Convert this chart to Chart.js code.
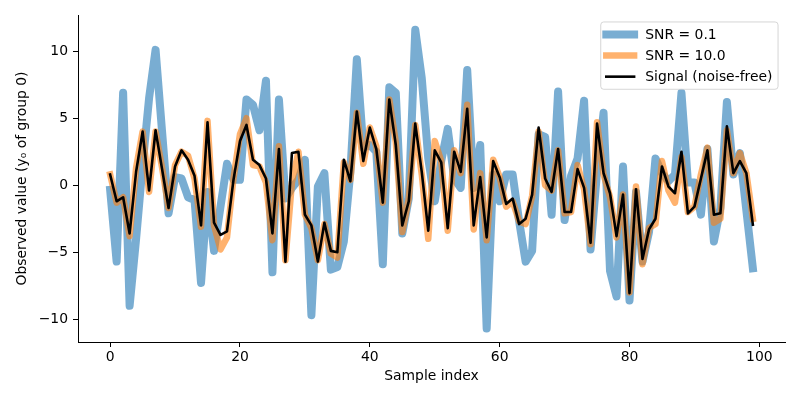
<!DOCTYPE html>
<html>
<head>
<meta charset="utf-8">
<script src="https://cdn.jsdelivr.net/npm/chart.js@4.4.1/dist/chart.umd.min.js"></script>
<style>
  html, body { margin: 0; padding: 0; background: #ffffff; }
  canvas { display: block; }
</style>
</head>
<body>
<canvas id="chart" width="800" height="400"></canvas>
<script>
// sample index 0..99
const sampleIndex = Array.from({ length: 100 }, (_, i) => i);

const snrLow = [
  -0.35, -5.7, 6.9, -9.0, -4.0, 1.5, 6.5, 10.1, 4.0, -2.1,
  0.6, 0.5, -0.9, -1.1, -7.3, -0.5, -4.9, -1.6, 1.6, 0.4,
  0.4, 6.4, 6.0, 4.1, 7.8, -6.5, 6.4, -1.0, -0.2, 0.4,
  1.9, -9.7, -0.1, 0.9, -6.3, -6.1, -4.2, 1.0, 9.4, 2.8,
  3.0, 2.5, -5.9, 7.3, 6.9, -3.6, -1.0, 11.6, 8.0, 2.0,
  -1.2, 1.8, 4.2, 0.5, -0.2, 8.6, -0.2, 3.0, -10.7, 0.8,
  -1.2, 0.8, 0.8, -2.7, -5.7, -4.9, 3.8, 3.6, -2.2, 7.0,
  -2.6, 0.7, 2.0, 6.3, -4.8, 1.0, 5.4, -6.4, -8.3, 1.4,
  -8.6, -0.5, -5.7, -3.5, 2.0, 0.9, 0.3, 0.8, 6.9, 0.2,
  0.2, -2.2, 2.7, -4.2, -1.7, 6.2, 0.8, 2.4, -1.9, -6.2
];

const snrHigh = [
  0.8, -1.3, -0.9, -3.8, 1.3, 4.0, -0.5, 4.0, 1.3, -1.7,
  1.5, 2.5, 2.2, 0.5, -3.1, 4.8, -3.0, -4.8, -3.9, 0.5,
  3.8, 5.0, 1.5, 1.4, 0.2, -4.1, 2.9, -5.6, 0.2, 2.5,
  -2.2, -3.2, -5.6, -2.9, -5.1, -5.4, 1.7, 0.4, 5.4, 1.6,
  4.3, 2.9, -1.3, 6.4, 3.2, -3.5, -1.0, 4.5, 0.8, -4.0,
  3.3, 1.8, -3.4, 2.6, 0.9, 6.0, -3.3, 0.9, -4.1, 1.9,
  0.6, -1.6, -1.2, -2.7, -2.9, -0.8, 4.0, 0.0, -0.4, 2.6,
  -2.1, -2.0, 1.5, -0.3, -4.4, 4.7, 0.8, -0.9, -3.9, -0.7,
  -8.0, -0.1, -5.9, -3.2, -2.9, 1.8, -0.4, -1.3, 2.1, -2.0,
  -1.6, 0.8, 2.8, -2.8, -2.5, 4.1, 0.9, 2.4, 0.9, -2.5
];

const signal = [
  0.8, -1.2, -0.9, -3.6, 1.0, 4.0, -0.4, 4.1, 1.2, -1.7,
  1.4, 2.6, 1.9, 0.7, -3.0, 4.7, -2.8, -3.7, -3.45, 0.4,
  3.3, 4.5, 1.9, 1.5, 0.5, -3.6, 2.7, -5.7, 2.4, 2.5,
  -2.2, -3.0, -5.7, -2.8, -4.9, -5.0, 1.9, 0.3, 5.5, 1.8,
  4.3, 2.7, -1.3, 6.4, 3.0, -3.0, -1.2, 4.6, 1.0, -3.4,
  2.6, 1.7, -3.2, 2.5, 1.0, 5.7, -3.0, 0.6, -3.9, 1.8,
  0.6, -1.4, -1.0, -2.9, -2.5, -0.7, 4.3, 0.5, -0.5, 2.7,
  -2.0, -2.0, 1.2, -0.2, -4.3, 4.6, 0.9, -0.6, -3.8, -0.7,
  -8.05, -0.3, -5.5, -3.3, -2.5, 1.4, -0.1, -0.6, 2.5, -2.1,
  -1.6, 0.5, 2.6, -2.2, -2.1, 4.4, 0.9, 1.8, 0.9, -2.95
];

const seriesLabels = ['SNR = 0.1', 'SNR = 10.0', 'Signal (noise-free)'];
const xTicks = [0, 20, 40, 60, 80, 100];
const yTicks = [-10, -5, 0, 5, 10];

const FONT = 'DejaVu Sans';
const FS = 13.9;

Chart.defaults.font.family = FONT;
Chart.defaults.font.size = FS;
Chart.defaults.color = '#000000';

function points(values) {
    return values.map((y, i) => ({ x: sampleIndex[i], y: y }));
}

// matplotlib style boxed legend, upper right
const boxLegend = {
    id: 'boxLegend',
    afterDatasetsDraw(chart) {
        const ctx = chart.ctx;
        const area = chart.chartArea;
        const ds = chart.data.datasets;
        const pad = 0.4 * FS, handleLen = 2 * FS, textPad = 0.8 * FS;
        const spacing = 0.5 * FS, rowH = 14.1;

        ctx.save();
        ctx.font = FS + 'px "' + FONT + '"';
        let textW = 0;
        ds.forEach(d => { textW = Math.max(textW, ctx.measureText(d.label).width); });
        const w = 2 * pad + handleLen + textPad + textW;
        const h = 2 * pad + ds.length * rowH + (ds.length - 1) * spacing;
        const right = area.right - 0.5 * FS;
        const left = right - w;
        const top = area.top + 0.5 * FS;

        ctx.beginPath();
        ctx.roundRect(left, top, w, h, 3);
        ctx.fillStyle = 'rgba(255,255,255,0.8)';
        ctx.fill();
        ctx.lineWidth = 1;
        ctx.strokeStyle = 'rgba(204,204,204,0.8)';
        ctx.stroke();

        ds.forEach((d, k) => {
            const cy = top + pad + rowH / 2 + k * (rowH + spacing);
            ctx.beginPath();
            ctx.moveTo(left + pad, cy);
            ctx.lineTo(left + pad + handleLen, cy);
            ctx.lineWidth = d.borderWidth;
            ctx.strokeStyle = d.borderColor;
            ctx.lineCap = 'square';
            ctx.stroke();
            ctx.fillStyle = '#000000';
            ctx.textBaseline = 'middle';
            ctx.textAlign = 'left';
            ctx.fillText(d.label, left + pad + handleLen + textPad, cy + 0.5);
        });
        ctx.restore();
    }
};

new Chart(document.getElementById('chart'), {
    type: 'line',
    data: {
        datasets: [
            {
                label: seriesLabels[0],
                data: points(snrLow),
                borderColor: 'rgba(31,119,180,0.6)',
                borderWidth: 8,
                order: 3
            },
            {
                label: seriesLabels[1],
                data: points(snrHigh),
                borderColor: 'rgba(255,127,14,0.6)',
                borderWidth: 6.5,
                order: 2
            },
            {
                label: seriesLabels[2],
                data: points(signal),
                borderColor: '#000000',
                borderWidth: 2.6,
                order: 1
            }
        ]
    },
    options: {
        responsive: false,
        animation: false,
        events: [],
        elements: {
            point: { radius: 0 },
            line: { tension: 0, fill: false, borderJoinStyle: 'round', borderCapStyle: 'square' }
        },
        layout: { padding: { left: 0, right: 15, top: 15, bottom: 0 } },
        plugins: {
            legend: { display: false },
            tooltip: { enabled: false }
        },
        scales: {
            x: {
                type: 'linear',
                min: -4.95,
                max: 103.95,
                afterFit: (scale) => { scale.height = 58; },
                afterBuildTicks: (scale) => { scale.ticks = xTicks.map(v => ({ value: v })); },
                grid: { drawOnChartArea: false, color: '#000000', tickLength: 5, lineWidth: 1 },
                border: { color: '#000000', width: 1 },
                ticks: { padding: 2, maxRotation: 0, color: '#000000' },
                title: { display: true, text: 'Sample index', padding: { top: 0, bottom: 15 } }
            },
            y: {
                min: -11.7,
                max: 12.7,
                afterFit: (scale) => { scale.width = 78; },
                afterBuildTicks: (scale) => { scale.ticks = yTicks.map(v => ({ value: v })); },
                grid: { drawOnChartArea: false, color: '#000000', tickLength: 5, lineWidth: 1 },
                border: { color: '#000000', width: 1 },
                ticks: {
                    padding: 5,
                    color: '#000000',
                    callback: (v) => String(v).replace('-', '\u2212')
                },
                title: { display: true, text: 'Observed value (y\u2080 of group 0)', padding: { top: 14, bottom: 0 } }
            }
        }
    },
    plugins: [boxLegend]
});
</script>
</body>
</html>
